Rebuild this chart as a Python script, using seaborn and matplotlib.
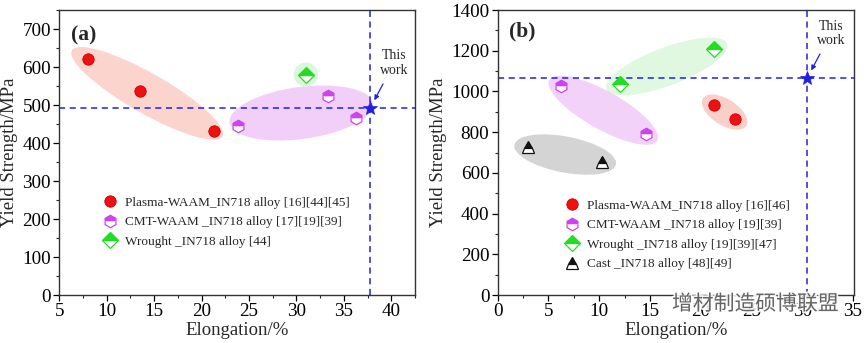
import numpy as np
import matplotlib
matplotlib.use("Agg")
import matplotlib.pyplot as plt
import matplotlib.patheffects as pe
import seaborn as sns
from matplotlib.patches import Ellipse
from matplotlib.transforms import IdentityTransform
from matplotlib.ticker import MultipleLocator

# ---------------- data: panel (a) ----------------
a_plasma_x = [8.0, 13.5, 21.3]
a_plasma_y = [622, 538, 432]
a_cmt_x = [23.8, 33.3, 36.3]
a_cmt_y = [446, 525, 466]
a_wrought_x = [31.0]
a_wrought_y = [580]
a_work_x = [37.8]
a_work_y = [493]
a_labels = ["Plasma-WAAM_IN718 alloy [16][44][45]",
            "CMT-WAAM _IN718 alloy [17][19][39]",
            "Wrought _IN718 alloy [44]"]

# ---------------- data: panel (b) ----------------
b_plasma_x = [21.3, 23.4]
b_plasma_y = [932, 865]
b_cmt_x = [6.2, 14.6]
b_cmt_y = [1025, 790]
b_wrought_x = [12.0, 21.3]
b_wrought_y = [1035, 1210]
b_cast_x = [3.0, 10.3]
b_cast_y = [725, 655]
b_work_x = [30.5]
b_work_y = [1067]
b_labels = ["Plasma-WAAM_IN718 alloy [16][46]",
            "CMT-WAAM _IN718 alloy [19][39]",
            "Wrought _IN718 alloy [19][39][47]",
            "Cast _IN718 alloy [48][49]"]

sns.set_theme(style="ticks")
plt.rcParams["font.family"] = ["Liberation Serif", "DejaVu Serif"]
plt.rcParams["axes.linewidth"] = 1.0
plt.rcParams["legend.numpoints"] = 1

RED, VIO, GRN, BLK, BLU = "#ee1111", "#cc44ee", "#22dd22", "#111111", "#2020e0"

fig = plt.figure(figsize=(8.65, 3.43), dpi=100)
axA = fig.add_axes([59.3 / 865, 1 - 295 / 343, (415 - 59.3) / 865, 285 / 343])
axB = fig.add_axes([497.7 / 865, 1 - 295 / 343, (854 - 497.7) / 865, 285 / 343])

axA.set_xlim(5, 42.5)
axA.set_ylim(0, 750)
axB.set_xlim(0, 35.1)
axB.set_ylim(0, 1400)


def group_ellipse(ax, xs, ys, extra, minor, color, shift=(0, 0)):
    pts = ax.transData.transform(np.column_stack([xs, ys]))
    c = pts.mean(axis=0) + np.asarray(shift)
    if len(pts) == 1:
        major, ang = minor, 0.0
    else:
        d = pts - pts.mean(axis=0)
        _, _, vt = np.linalg.svd(d)
        v = vt[0]
        proj = d @ v
        major = proj.max() - proj.min() + extra
        ang = np.degrees(np.arctan2(v[1], v[0]))
    e = Ellipse(c, major, minor, angle=ang, transform=IdentityTransform(),
                facecolor=color, edgecolor="none", zorder=0.5)
    ax.add_patch(e)


def half_marker(ax, xs, ys, marker, color, ms, label):
    sns.lineplot(x=xs, y=ys, ax=ax, marker=marker, linestyle="", color=color,
                 markersize=ms, fillstyle="top", markerfacecolor=color,
                 markerfacecoloralt="white", markeredgecolor=color,
                 markeredgewidth=0.9, label=label, estimator=None, sort=False,
                 zorder=3)


def full_marker(ax, xs, ys, marker, color, ms, label, edge):
    sns.lineplot(x=xs, y=ys, ax=ax, marker=marker, linestyle="", color=color,
                 markersize=ms, markerfacecolor=color, markeredgecolor=edge,
                 markeredgewidth=0.6, label=label, estimator=None, sort=False,
                 zorder=3)


# ---------------- panel (a) ----------------
group_ellipse(axA, a_plasma_x, a_plasma_y, 28, 40, "#fbd4cd")
group_ellipse(axA, a_cmt_x, a_cmt_y, 26, 52, "#f1cff8", shift=(-6, 0))
group_ellipse(axA, a_wrought_x, a_wrought_y, 0, 24, "#d9f7d9")
full_marker(axA, a_plasma_x, a_plasma_y, "o", RED, 8.2, a_labels[0], "#d00000")
half_marker(axA, a_cmt_x, a_cmt_y, "h", VIO, 9, a_labels[1])
half_marker(axA, a_wrought_x, a_wrought_y, "D", GRN, 8, a_labels[2])

# ---------------- panel (b) ----------------
group_ellipse(axB, b_wrought_x, b_wrought_y, 28, 38, "#e0f8e0")
group_ellipse(axB, b_cmt_x, b_cmt_y, 26, 38, "#f3d2f9")
group_ellipse(axB, b_cast_x, b_cast_y, 28, 36, "#d4d4d4")
group_ellipse(axB, b_plasma_x, b_plasma_y, 26, 26, "#f9d0c9")
full_marker(axB, b_plasma_x, b_plasma_y, "o", RED, 8.2, b_labels[0], "#d00000")
half_marker(axB, b_cmt_x, b_cmt_y, "h", VIO, 9, b_labels[1])
half_marker(axB, b_wrought_x, b_wrought_y, "D", GRN, 8, b_labels[2])
half_marker(axB, b_cast_x, b_cast_y, "^", BLK, 8.5, b_labels[3])

for ax, wx, wy, tag, ypos in [(axA, a_work_x, a_work_y, "(a)", 0.912),
                              (axB, b_work_x, b_work_y, "(b)", 0.923)]:
    ax.axhline(wy[0], color=BLU, lw=1.1, dashes=(4, 3), zorder=2)
    ax.axvline(wx[0], color=BLU, lw=1.1, dashes=(4, 3), zorder=2)
    sns.lineplot(x=wx, y=wy, ax=ax, marker="*", linestyle="", color=BLU,
                 markersize=10.5, markeredgecolor=BLU, markeredgewidth=0.5,
                 estimator=None, zorder=4)
    ax.annotate("This\nwork", xy=(wx[0], wy[0]), xycoords="data",
                xytext=(17, 32), textcoords="offset points",
                ha="center", va="center", fontsize=10, linespacing=1.15,
                arrowprops=dict(arrowstyle="-|>", color=BLU, lw=0.9,
                                mutation_scale=7, shrinkA=3, shrinkB=6))
    ax.text(0.032, ypos, tag, transform=ax.transAxes, fontsize=15.5,
            fontweight="bold", ha="left", va="center")
    ax.set_xlabel("Elongation/%", fontsize=13.5, labelpad=1)
    ax.set_ylabel("Yield Strength/MPa", fontsize=13.5, labelpad=3)
    ax.tick_params(axis="both", which="major", direction="out", length=4,
                   width=0.9, labelsize=13.8, pad=2, colors="black")
    ax.tick_params(axis="both", which="minor", direction="out", length=2.5,
                   width=0.8)
    for s in ax.spines.values():
        s.set_visible(True)
        s.set_color("#333333")

axA.xaxis.set_major_locator(MultipleLocator(5))
axA.xaxis.set_minor_locator(MultipleLocator(2.5))
axA.yaxis.set_major_locator(MultipleLocator(100))
axA.yaxis.set_minor_locator(MultipleLocator(50))
axB.xaxis.set_major_locator(MultipleLocator(5))
axB.xaxis.set_minor_locator(MultipleLocator(2.5))
axB.yaxis.set_major_locator(MultipleLocator(200))
axB.yaxis.set_minor_locator(MultipleLocator(100))

for ax, left, top, labels in [(axA, 0.125, 0.345, a_labels),
                              (axB, 0.19, 0.335, b_labels)]:
    h, l = ax.get_legend_handles_labels()
    keep = [(hh, ll) for hh, ll in zip(h, l) if ll in labels]
    ax.legend([k[0] for k in keep], [k[1] for k in keep], loc="upper left",
              bbox_to_anchor=(left, top), frameon=False, fontsize=9.5,
              handlelength=1.0, handletextpad=0.6, labelspacing=0.55,
              borderpad=0, borderaxespad=0)

fig.text(672 / 865, 1 - 304 / 343, "增材制造硕博联盟", fontsize=15,
         color="#555555", alpha=0.9, ha="left", va="center",
         family=["Noto Sans CJK SC", "DejaVu Sans"], zorder=10,
         path_effects=[pe.withStroke(linewidth=2.5, foreground="white")])

fig.savefig("out.png", dpi=100)
